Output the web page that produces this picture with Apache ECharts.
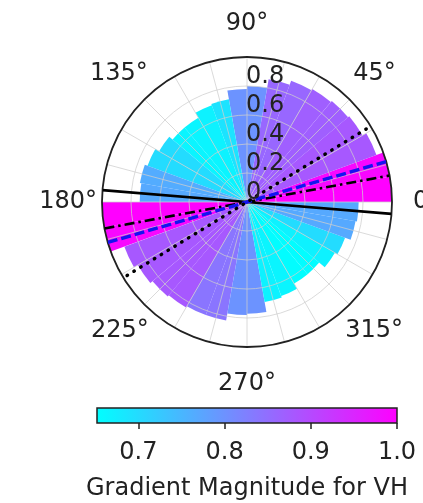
<!DOCTYPE html>
<html><head><meta charset="utf-8">
<script src="https://cdn.jsdelivr.net/npm/echarts@6/dist/echarts.min.js"></script>
<style>html,body{margin:0;padding:0;background:#fff}#c{width:423px;height:503px}</style>
</head><body><div id="c"></div>
<script>
// ---- data (10-degree direction bins, counter-clockwise from east) ----
const binStarts = [0,10,20,30,40,50,60,70,80,90,100,110,120,130,140,150,160,170,
                   180,190,200,210,220,230,240,250,260,270,280,290,300,310,320,330,340,350];
const binRadius = [1.00,1.00,0.95,0.92,0.91,0.90,0.89,0.86,0.80,0.78,0.72,0.71,0.67,0.67,0.70,0.73,0.75,0.74,
                   1.00,1.00,0.90,0.87,0.85,0.84,0.83,0.83,0.78,0.77,0.70,0.69,0.65,0.65,0.70,0.72,0.76,0.77];
const binMagnitude = [1.00,0.99,0.88,0.88,0.87,0.87,0.86,0.86,0.80,0.80,0.69,0.67,0.665,0.665,0.70,0.70,0.765,0.77,
                      1.00,0.99,0.88,0.88,0.88,0.88,0.84,0.84,0.80,0.80,0.67,0.665,0.655,0.655,0.67,0.70,0.77,0.77];
const radiusTicks = [0,0.2,0.4,0.6,0.8];
const angleTickLabels = [0,45,90,135,180,225,270,315];
const colorbarTicks = [0.7,0.8,0.9,1.0];
const colorMin = 0.652, colorMax = 1.0;
const colorbarTitle = 'Gradient Magnitude for VH';
// reference direction lines: angle (deg) and radial extent
const refLineNames = ['solid','dashdot','dashed','dotted'];
const refLineAngle = [175.3, 10.5, 16.2, 31.5];
const refLineRadius = [1.0, 1.0, 1.0, 0.97];

// ---- helpers ----
function cool(v){
  let t = (v - colorMin) / (colorMax - colorMin);
  t = Math.max(0, Math.min(1, t));
  return 'rgb(' + Math.round(255*t) + ',' + Math.round(255*(1-t)) + ',255)';
}
const FONT = 'DejaVu Sans';
const TXT = '#222';
const CENTER = [247, 202];
const RAD = 145;

const lineStyles = {
  solid:   {color:'#000', width:2.6, type:'solid'},
  dashdot: {color:'#000', width:2.6, type:[10,4,2.5,4]},
  dashed:  {color:'#1414f0', width:3.4, type:[10,4]},
  dotted:  {color:'#000', width:3.4, type:[0.5,7.5], cap:'round'}
};

const richBase = {fontSize:24, fontFamily:FONT, color:TXT, lineHeight:24};
function rb(p){ return Object.assign({padding:p}, richBase); }
const angleRich = {
  a0: rb([0,0,0,27]), a45: rb([0,0,36,8]), a90: rb([0,0,54,0]), a135: rb([0,1,36,0]),
  a180: rb([0,11,0,0]), a225: rb([36,0,0,0]), a270: rb([62,0,0,0]), a315: rb([36,0,0,0])
};

const series = [{
  type:'bar', coordinateSystem:'polar', polarIndex:0, z:2,
  barCategoryGap:'0%',
  data: binRadius.map((r,i)=>({value:r, itemStyle:{color:cool(binMagnitude[i])}})),
  silent:true
}];
refLineNames.forEach((n,i)=>{
  const a = refLineAngle[i], r = refLineRadius[i];
  series.push({
    type:'line', coordinateSystem:'polar', polarIndex:1, z:6,
    data:[[r, a+180],[0, a],[r, a]],
    showSymbol:false, symbol:'none', silent:true,
    lineStyle: lineStyles[n]
  });
});

const option = {
  animation:false,
  backgroundColor:'#fff',
  polar:[
    {center:CENTER, radius:RAD},
    {center:CENTER, radius:RAD},
    {center:CENTER, radius:RAD}
  ],
  angleAxis:[
    {polarIndex:0, type:'category', data:binStarts, startAngle:0, clockwise:false, boundaryGap:true,
     axisLine:{show:false}, axisTick:{show:false}, axisLabel:{show:false}, splitLine:{show:false}},
    {polarIndex:1, type:'value', min:0, max:360, interval:15, startAngle:0, clockwise:false, z:4,
     axisLine:{show:true, lineStyle:{color:'#222', width:1.8}},
     axisTick:{show:false},
     splitLine:{show:true, lineStyle:{color:'rgba(205,205,205,0.75)', width:1}},
     axisLabel:{show:true, margin:-6, fontSize:24, fontFamily:FONT, color:TXT,
       formatter:function(v){ v=Math.round(v); if(v%45!==0||v>=360) return ''; return '{a'+v+'|'+v+'°}'; },
       rich:angleRich}},
    {polarIndex:2, type:'value', min:0, max:360, startAngle:90, clockwise:false, show:false}
  ],
  radiusAxis:[
    {polarIndex:0, min:0, max:1, show:false},
    {polarIndex:1, min:0, max:1, interval:0.2, z:4,
     axisLine:{show:false}, axisTick:{show:false}, axisLabel:{show:false},
     splitLine:{show:true, lineStyle:{color:'rgba(205,205,205,0.75)', width:1}}},
    {polarIndex:2, min:0, max:1, interval:0.2, z:8,
     axisLine:{show:false}, axisTick:{show:false}, splitLine:{show:false},
     axisLabel:{show:true, inside:true, align:'left', verticalAlign:'bottom', margin:1,
       fontSize:24, fontFamily:FONT, color:TXT, lineHeight:18,
       formatter:function(v){ 
         for (const t of radiusTicks){ if (Math.abs(v-t)<1e-6) return t===0?'0':t.toFixed(1); }
         return ''; }}}
  ],
  grid:{left:97, top:408, width:300, height:15, show:true,
    backgroundColor:{type:'linear', x:0, y:0, x2:1, y2:0,
      colorStops:[{offset:0,color:cool(colorMin)},{offset:0.5,color:cool((colorMin+colorMax)/2)},{offset:1,color:cool(colorMax)}]},
    borderColor:'#222', borderWidth:1.5},
  xAxis:{type:'value', min:colorMin, max:colorMax, position:'bottom',
    axisLine:{show:false}, splitLine:{show:false},
    axisTick:{show:true, customValues:colorbarTicks, length:6, lineStyle:{color:'#222', width:1.5}},
    axisLabel:{show:true, customValues:colorbarTicks, margin:18, fontSize:24, fontFamily:FONT, color:TXT,
      formatter:function(v){ return v.toFixed(1); }},
    name:colorbarTitle, nameLocation:'middle', nameGap:54,
    nameTextStyle:{fontSize:24, fontFamily:FONT, color:TXT}},
  yAxis:{type:'value', show:false, min:0, max:1},
  series:series
};
const chart = echarts.init(document.getElementById('c'), null, {renderer:'canvas'});
chart.setOption(option);
</script></body></html>
